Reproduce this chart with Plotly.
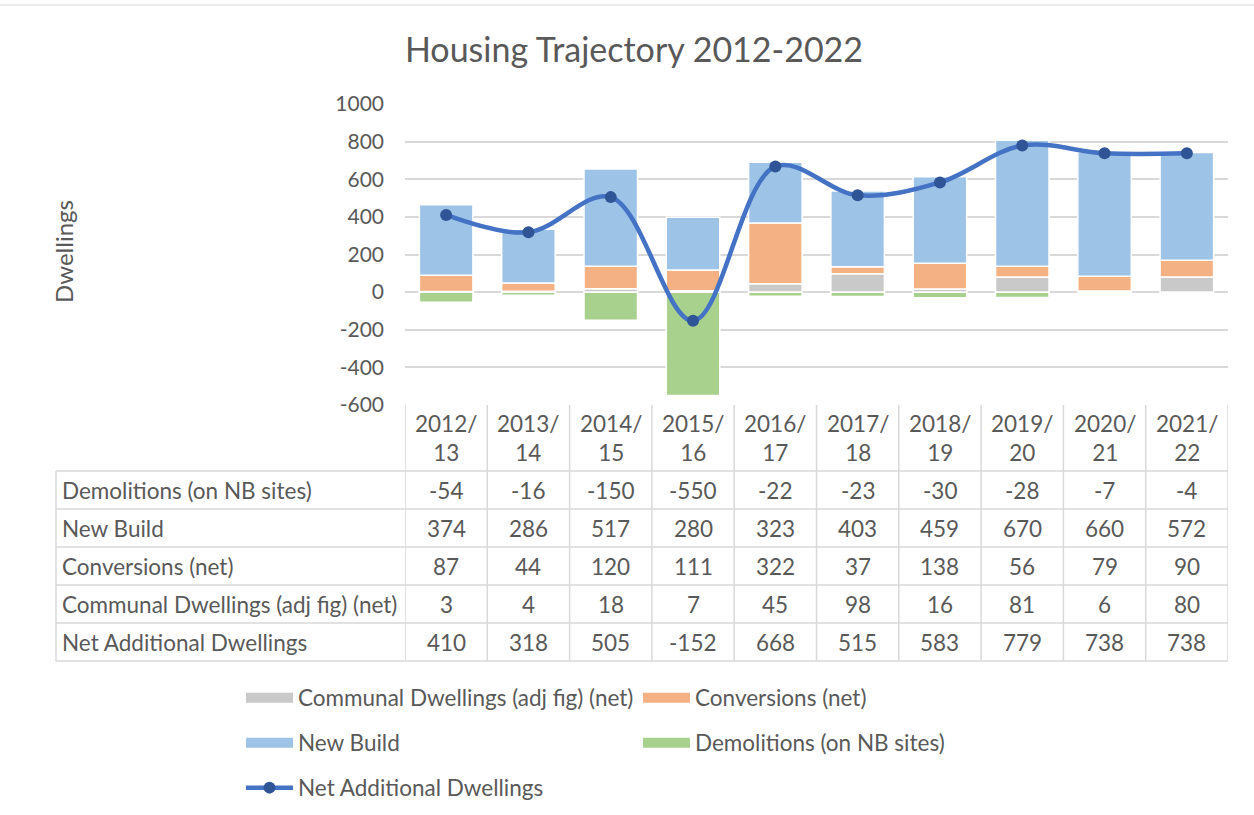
import plotly.graph_objects as go

# ---------------- data ----------------
years = ["2012/13", "2013/14", "2014/15", "2015/16", "2016/17",
         "2017/18", "2018/19", "2019/20", "2020/21", "2021/22"]
year_labels = ["2012/<br>13", "2013/<br>14", "2014/<br>15", "2015/<br>16", "2016/<br>17",
               "2017/<br>18", "2018/<br>19", "2019/<br>20", "2020/<br>21", "2021/<br>22"]
demolitions = [-54, -16, -150, -550, -22, -23, -30, -28, -7, -4]
new_build = [374, 286, 517, 280, 323, 403, 459, 670, 660, 572]
conversions = [87, 44, 120, 111, 322, 37, 138, 56, 79, 90]
communal = [3, 4, 18, 7, 45, 98, 16, 81, 6, 80]
net_additional = [410, 318, 505, -152, 668, 515, 583, 779, 738, 738]
y_tick_vals = [-600, -400, -200, 0, 200, 400, 600, 800, 1000]
y_tick_text = ["-600", "-400", "-200", "0", "200", "400", "600", "800", "1000"]

name_dem = "Demolitions (on NB sites)"
name_nb = "New Build"
name_conv = "Conversions (net)"
name_comm = "Communal Dwellings (adj fig) (net)"
name_net = "Net Additional Dwellings"

c_comm = "#C9C9C9"
c_conv = "#F4B183"
c_nb = "#9DC3E6"
c_dem = "#A9D18E"
c_line = "#4472C4"
c_mark = "#2F5597"
txt = "#595959"
grid = "#D9D9D9"
FONT = "Lato"

W, H = 1254, 815
L, R, T, B = 405, 1228, 104, 405


def pxx(p):
    return (p - L) / (R - L)


def pxy(p):
    return (B - p) / (B - T)


fig = go.Figure()

bar_series = [
    (name_comm, communal, c_comm, "legend"),
    (name_conv, conversions, c_conv, "legend"),
    (name_nb, new_build, c_nb, "legend2"),
    (name_dem, demolitions, c_dem, "legend2"),
]
for nm, vals, col, lg in bar_series:
    fig.add_trace(go.Bar(
        x=years, y=vals, name=nm, marker=dict(color=col, line=dict(color="white", width=1.5)),
        showlegend=False, legendgroup=nm,
    ))

fig.add_trace(go.Scatter(
    x=years, y=net_additional, name=name_net, mode="lines+markers",
    line=dict(color=c_line, width=4.5, shape="spline", smoothing=1),
    marker=dict(color=c_mark, size=12),
    legend="legend3",
))

# legend-only entries drawn as wide flat keys (Excel style)
for nm, vals, col, lg in bar_series:
    fig.add_trace(go.Scatter(
        x=[None], y=[None], name=nm, mode="lines", line=dict(color=col, width=13),
        legendgroup=nm, legend=lg, showlegend=True,
    ))

shapes = []
lc = dict(color=grid, width=1.5)
rows_y = [471, 509, 547, 585, 623, 661]
for yy in rows_y:
    shapes.append(dict(type="line", xref="paper", yref="paper", x0=pxx(56), x1=pxx(1228),
                       y0=pxy(yy), y1=pxy(yy), line=lc))
shapes.append(dict(type="line", xref="paper", yref="paper", x0=pxx(56), x1=pxx(56),
                   y0=pxy(471), y1=pxy(661), line=lc))
for i in range(len(years) + 1):
    shapes.append(dict(type="line", xref="x", yref="paper", x0=i - 0.5, x1=i - 0.5,
                       y0=pxy(661), y1=pxy(405), line=lc))
# chart frame top edge
shapes.append(dict(type="line", xref="paper", yref="paper", x0=pxx(0), x1=pxx(1254),
                   y0=pxy(5), y1=pxy(5), line=dict(color=grid, width=1)))

annotations = []
tfont = dict(family=FONT, size=22.5, color=txt)
for i, lab in enumerate(year_labels):
    annotations.append(dict(x=i, y=pxy(438), xref="x", yref="paper", text=lab, showarrow=False,
                            font=tfont, align="center", xanchor="center", yanchor="middle"))
table_rows = [
    (name_dem, demolitions),
    (name_nb, new_build),
    (name_conv, conversions),
    (name_comm, communal),
    (name_net, net_additional),
]
for r, (nm, vals) in enumerate(table_rows):
    cy = (rows_y[r] + rows_y[r + 1]) / 2
    annotations.append(dict(x=pxx(60), y=pxy(cy), xref="paper", yref="paper", text=nm, showarrow=False,
                            font=tfont, xanchor="left", yanchor="middle"))
    for i, v in enumerate(vals):
        annotations.append(dict(x=i, y=pxy(cy), xref="x", yref="paper", text=str(v), showarrow=False,
                                font=tfont, xanchor="center", yanchor="middle"))

annotations.append(dict(x=pxx(63), y=pxy(252), xref="paper", yref="paper", text="Dwellings",
                        textangle=-90, showarrow=False, font=dict(family=FONT, size=24, color=txt),
                        xanchor="center", yanchor="middle"))

leg_common = dict(orientation="h", font=dict(family=FONT, size=22.5, color=txt),
                  itemwidth=47, entrywidth=335, xanchor="left", yanchor="middle",
                  bgcolor="rgba(0,0,0,0)")

fig.update_layout(
    width=W, height=H,
    margin=dict(l=L, r=W - R, t=T, b=H - B, autoexpand=False),
    paper_bgcolor="white", plot_bgcolor="white",
    barmode="relative", bargap=0.35,
    title=dict(text="Housing Trajectory 2012-2022", x=634 / W, xref="container", y=1 - 50 / H,
               yref="container", yanchor="middle", xanchor="center",
               font=dict(family=FONT, size=34, color=txt)),
    font=dict(family=FONT, color=txt),
    xaxis=dict(showticklabels=False, showgrid=False, zeroline=False, showline=False,
               range=[-0.5, 9.5], ticks=""),
    yaxis=dict(range=[-600, 1000], tickvals=y_tick_vals, ticktext=y_tick_text,
               tickfont=dict(family=FONT, size=21, color=txt),
               showgrid=True, gridcolor=grid, gridwidth=1.5, zeroline=True, zerolinecolor=grid,
               zerolinewidth=1.5, showline=False, ticklabelstandoff=20),
    legend=dict(x=pxx(241), y=pxy(698), **leg_common),
    legend2=dict(x=pxx(241), y=pxy(743), **leg_common),
    legend3=dict(x=pxx(241), y=pxy(788), **leg_common),
    shapes=shapes,
    annotations=annotations,
    showlegend=True,
)

fig.write_html("out.html", config={"displayModeBar": False},
               post_script="document.body.style.margin='0px';")
